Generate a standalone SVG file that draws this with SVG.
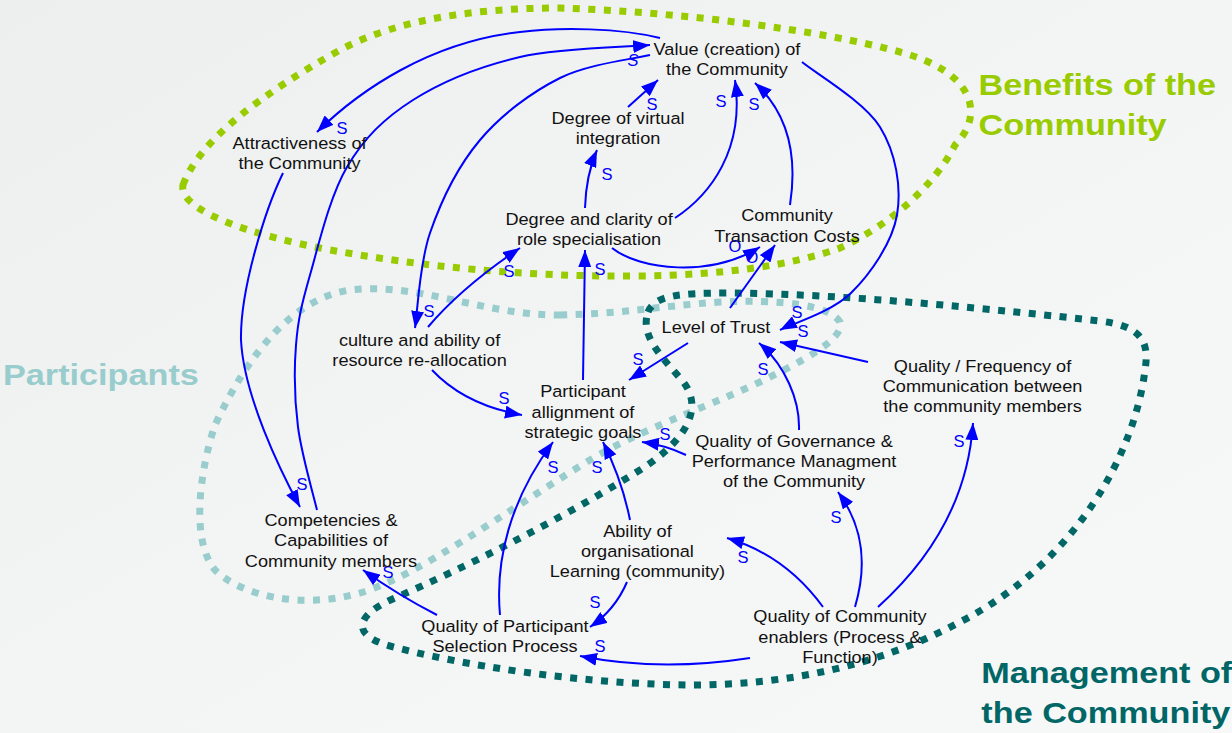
<svg xmlns="http://www.w3.org/2000/svg" width="1232" height="733" viewBox="0 0 1232 733">
<defs>
<linearGradient id="bg" x1="0" y1="0" x2="1" y2="1">
<stop offset="0" stop-color="#edefef"/>
<stop offset="0.5" stop-color="#f3f4f4"/>
<stop offset="1" stop-color="#f7f8f8"/>
</linearGradient>
<marker id="arr" markerUnits="userSpaceOnUse" markerWidth="17" markerHeight="13" viewBox="0 0 17 13" refX="17" refY="6.5" orient="auto">
<path d="M0,0 L17,6.5 L0,13 z" fill="#0000ff"/>
</marker>
<style>
.loop{fill:none;stroke-width:7;stroke-dasharray:7 8.5}
.node text{font-family:"Liberation Sans",Arial,sans-serif;font-size:16.5px;fill:#111;text-anchor:middle}
.lbl{font-family:"Liberation Sans",Arial,sans-serif;font-size:16.5px;fill:#0000ff;text-anchor:middle}
.big{font-family:"Liberation Sans",Arial,sans-serif;font-size:29.5px;font-weight:bold}
.conn path{fill:none;stroke:#0000ff;stroke-width:2;marker-end:url(#arr)}
</style>
</defs>
<rect x="0" y="0" width="1232" height="733" fill="url(#bg)"/>

<g id="loops">
<path class="loop" stroke="#99cc00" d="M 183,185 C 200,140 260,95 340,50 C 400,18 480,8 560,8 C 680,12 820,30 900,52 C 975,72 985,115 955,145 C 935,185 890,225 840,248 C 790,266 720,275 640,276 C 520,277 420,266 330,250 C 250,235 178,210 183,185 Z"/>
<path class="loop" stroke="#99cccc" d="M 560,315 C 620,314 660,306 720,302 C 780,299 830,305 840,322 C 845,340 800,362 760,382 C 700,410 640,430 590,460 C 500,515 420,575 360,593 C 300,610 240,595 215,570 C 190,540 200,470 215,425 C 250,350 295,298 350,290 C 420,282 480,315 560,315 Z"/>
<path class="loop" stroke="#006666" d="M 648,312 C 655,295 680,293 730,293 C 850,294 1000,310 1100,321 C 1140,326 1150,340 1145,370 C 1135,450 1080,560 960,622 C 880,665 790,685 690,685 C 580,684 460,665 390,646 C 350,635 355,615 395,598 C 470,565 560,520 640,470 C 690,438 705,405 680,378 C 660,355 640,335 648,312 Z"/>
</g>

<g id="connectors" class="conn">
<path d="M 660,38 C 620,28 560,27 520,32 C 430,42 360,90 317,132"/>
<path d="M 317,510 C 313.8,496.2 301.5,454.5 298,427 C 294.5,399.5 294,370.3 296,345 C 298,319.7 301.5,304.7 310,275 C 318.5,245.3 329.8,196.2 347,167 C 364.2,137.8 384.2,118.3 413,100 C 441.8,81.7 480.5,66.2 520,57 C 559.5,47.8 628.3,47 650,45"/>
<path d="M 283,173 C 265,210 240,290 241,340 C 243.8,395.7 280,470 300,507"/>
<path d="M 650,55 C 635,58.8 588.3,63.8 560,78 C 531.7,92.2 501.7,114.2 480,140 C 458.3,165.8 440.8,201.7 430,233 C 419.2,264.3 417.5,312.2 415,328"/>
<path d="M 428,327 Q 462,287 520,248"/>
<path d="M 432,370 Q 465,405 522,415"/>
<path d="M 583,380 L 585,250"/>
<path d="M 585,208 Q 586,175 597,150"/>
<path d="M 628,107 L 658,80"/>
<path d="M 675,218 C 710,195 745,150 735,80"/>
<path d="M 790,205 C 797,160 790,115 755,83"/>
<path d="M 612,248 C 640,270 710,278 760,247"/>
<path d="M 730,308 L 775,245"/>
<path d="M 802,62 C 815,72.8 864.2,101.5 880,127 C 895.8,152.5 901.8,187.3 897,215 C 892.2,242.7 870.5,273.8 851,293 C 831.5,312.2 791.8,323.8 780,330"/>
<path d="M 868,362 L 780,342"/>
<path d="M 688,343 L 629,380"/>
<path d="M 799,430 C 800,400 785,365 759,343"/>
<path d="M 686,455 Q 665,445 642,442"/>
<path d="M 630,520 Q 622,480 603,442"/>
<path d="M 500,615 C 495,560 510,500 553,442"/>
<path d="M 627,582 Q 615,610 590,627"/>
<path d="M 750,658 Q 660,672 580,656"/>
<path d="M 823,607 Q 785,555 727,538"/>
<path d="M 855,607 C 866,570 866,530 838,492"/>
<path d="M 878,607 C 930,560 968,500 973,423"/>
<path d="M 437,615 Q 398,595 363,570"/>
</g>

<g id="connector-labels">
<text class="lbl" x="342" y="134">S</text>
<text class="lbl" x="633" y="66" font-style="italic">S</text>
<text class="lbl" x="302" y="490">S</text>
<text class="lbl" x="429" y="317">S</text>
<text class="lbl" x="509" y="277">S</text>
<text class="lbl" x="504" y="404">S</text>
<text class="lbl" x="600" y="275">S</text>
<text class="lbl" x="607" y="180">S</text>
<text class="lbl" x="652" y="110">S</text>
<text class="lbl" x="721" y="107">S</text>
<text class="lbl" x="754" y="110">S</text>
<text class="lbl" x="735" y="252">O</text>
<text class="lbl" x="752" y="263">O</text>
<text class="lbl" x="797" y="318">S</text>
<text class="lbl" x="803" y="337">S</text>
<text class="lbl" x="638" y="365">S</text>
<text class="lbl" x="763" y="375">S</text>
<text class="lbl" x="665" y="440">S</text>
<text class="lbl" x="597" y="473">S</text>
<text class="lbl" x="553" y="473">S</text>
<text class="lbl" x="595" y="608">S</text>
<text class="lbl" x="600" y="652">S</text>
<text class="lbl" x="743" y="563">S</text>
<text class="lbl" x="836" y="523">S</text>
<text class="lbl" x="959" y="447">S</text>
<text class="lbl" x="388" y="578">S</text>
</g>

<g id="value" class="node" transform="scale(1.1 1)"><text><tspan x="660.9" y="55">Value (creation) of</tspan><tspan x="660.9" y="75">the Community</tspan></text></g>
<g id="attractiveness" class="node" transform="scale(1.1 1)"><text><tspan x="272.3" y="149">Attractiveness of</tspan><tspan x="272.3" y="169">the Community</tspan></text></g>
<g id="virtual-integration" class="node" transform="scale(1.1 1)"><text><tspan x="561.8" y="124">Degree of virtual</tspan><tspan x="561.8" y="144">integration</tspan></text></g>
<g id="role-specialisation" class="node" transform="scale(1.1 1)"><text><tspan x="535.5" y="225">Degree and clarity of</tspan><tspan x="535.5" y="245">role specialisation</tspan></text></g>
<g id="transaction-costs" class="node" transform="scale(1.1 1)"><text><tspan x="715.5" y="221">Community</tspan><tspan x="715.5" y="242">Transaction Costs</tspan></text></g>
<g id="culture" class="node" transform="scale(1.1 1)"><text><tspan x="381.4" y="346">culture and ability of</tspan><tspan x="381.4" y="366">resource re-allocation</tspan></text></g>
<g id="trust" class="node" transform="scale(1.1 1)"><text><tspan x="650.9" y="333">Level of Trust</tspan></text></g>
<g id="alignment" class="node" transform="scale(1.1 1)"><text><tspan x="530" y="397">Participant</tspan><tspan x="530" y="418">allignment of</tspan><tspan x="530" y="438">strategic goals</tspan></text></g>
<g id="communication" class="node" transform="scale(1.1 1)"><text><tspan x="893.2" y="372">Quality / Frequency of</tspan><tspan x="893.2" y="392">Communication between</tspan><tspan x="893.2" y="412">the community members</tspan></text></g>
<g id="governance" class="node" transform="scale(1.1 1)"><text><tspan x="721.8" y="447">Quality of Governance &amp;</tspan><tspan x="721.8" y="467">Performance Managment</tspan><tspan x="721.8" y="487">of the Community</tspan></text></g>
<g id="competencies" class="node" transform="scale(1.1 1)"><text><tspan x="300.9" y="526">Competencies &amp;</tspan><tspan x="300.9" y="546">Capabilities of</tspan><tspan x="300.9" y="567">Community members</tspan></text></g>
<g id="learning" class="node" transform="scale(1.1 1)"><text><tspan x="579.5" y="537">Ability of</tspan><tspan x="579.5" y="557">organisational</tspan><tspan x="579.5" y="577">Learning (community)</tspan></text></g>
<g id="selection" class="node" transform="scale(1.1 1)"><text><tspan x="459.1" y="632">Quality of Participant</tspan><tspan x="459.1" y="652">Selection Process</tspan></text></g>
<g id="enablers" class="node" transform="scale(1.1 1)"><text><tspan x="763.6" y="622">Quality of Community</tspan><tspan x="763.6" y="643">enablers (Process &amp;</tspan><tspan x="763.6" y="663">Function)</tspan></text></g>

<g id="group-labels" transform="scale(1.16 1)">
<text class="big" fill="#99cc00"><tspan x="843.5" y="95">Benefits of the</tspan><tspan x="843.5" y="135">Community</tspan></text>
<text class="big" fill="#99cccc" x="2.6" y="385">Participants</text>
<text class="big" fill="#006666"><tspan x="846" y="683">Management of</tspan><tspan x="846" y="723">the Community</tspan></text>
</g>
</svg>
